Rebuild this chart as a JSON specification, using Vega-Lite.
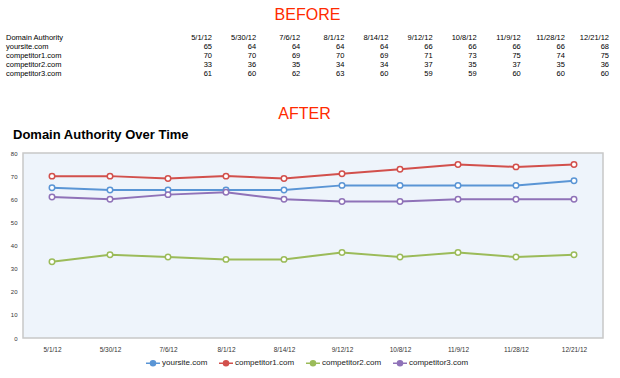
{
  "$schema": "https://vega.github.io/schema/vega-lite/v6.json",
  "background": "white",
  "padding": {"left": 5, "right": 5, "top": 7, "bottom": 3},
  "spacing": 28,
  "datasets": {
    "da": [
      {"site": "yoursite.com", "date": "5/1/12", "value": 65},
      {"site": "yoursite.com", "date": "5/30/12", "value": 64},
      {"site": "yoursite.com", "date": "7/6/12", "value": 64},
      {"site": "yoursite.com", "date": "8/1/12", "value": 64},
      {"site": "yoursite.com", "date": "8/14/12", "value": 64},
      {"site": "yoursite.com", "date": "9/12/12", "value": 66},
      {"site": "yoursite.com", "date": "10/8/12", "value": 66},
      {"site": "yoursite.com", "date": "11/9/12", "value": 66},
      {"site": "yoursite.com", "date": "11/28/12", "value": 66},
      {"site": "yoursite.com", "date": "12/21/12", "value": 68},
      {"site": "competitor1.com", "date": "5/1/12", "value": 70},
      {"site": "competitor1.com", "date": "5/30/12", "value": 70},
      {"site": "competitor1.com", "date": "7/6/12", "value": 69},
      {"site": "competitor1.com", "date": "8/1/12", "value": 70},
      {"site": "competitor1.com", "date": "8/14/12", "value": 69},
      {"site": "competitor1.com", "date": "9/12/12", "value": 71},
      {"site": "competitor1.com", "date": "10/8/12", "value": 73},
      {"site": "competitor1.com", "date": "11/9/12", "value": 75},
      {"site": "competitor1.com", "date": "11/28/12", "value": 74},
      {"site": "competitor1.com", "date": "12/21/12", "value": 75},
      {"site": "competitor2.com", "date": "5/1/12", "value": 33},
      {"site": "competitor2.com", "date": "5/30/12", "value": 36},
      {"site": "competitor2.com", "date": "7/6/12", "value": 35},
      {"site": "competitor2.com", "date": "8/1/12", "value": 34},
      {"site": "competitor2.com", "date": "8/14/12", "value": 34},
      {"site": "competitor2.com", "date": "9/12/12", "value": 37},
      {"site": "competitor2.com", "date": "10/8/12", "value": 35},
      {"site": "competitor2.com", "date": "11/9/12", "value": 37},
      {"site": "competitor2.com", "date": "11/28/12", "value": 35},
      {"site": "competitor2.com", "date": "12/21/12", "value": 36},
      {"site": "competitor3.com", "date": "5/1/12", "value": 61},
      {"site": "competitor3.com", "date": "5/30/12", "value": 60},
      {"site": "competitor3.com", "date": "7/6/12", "value": 62},
      {"site": "competitor3.com", "date": "8/1/12", "value": 63},
      {"site": "competitor3.com", "date": "8/14/12", "value": 60},
      {"site": "competitor3.com", "date": "9/12/12", "value": 59},
      {"site": "competitor3.com", "date": "10/8/12", "value": 59},
      {"site": "competitor3.com", "date": "11/9/12", "value": 60},
      {"site": "competitor3.com", "date": "11/28/12", "value": 60},
      {"site": "competitor3.com", "date": "12/21/12", "value": 60}
    ]
  },
  "vconcat": [
    {
      "title": {"text": "BEFORE", "color": "#ff2a00", "fontSize": 16, "font": "Liberation Sans", "fontWeight": "normal", "anchor": "middle", "frame": "bounds", "offset": 10},
      "spacing": 108,
      "hconcat": [
        {
          "width": 60,
          "height": 45,
          "view": {"stroke": null},
          "data": {"name": "da"},
          "encoding": {
            "y": {"field": "site", "type": "nominal",
              "scale": {"type": "point", "padding": 0.5, "domain": ["Domain Authority", "yoursite.com", "competitor1.com", "competitor2.com", "competitor3.com"]},
              "axis": null}
          },
          "layer": [
            {
              "transform": [{"filter": "datum.date === '5/1/12'"}],
              "mark": {"type": "text", "align": "left", "baseline": "middle", "dx": -17, "font": "Liberation Sans", "fontSize": 7.5, "color": "#000"},
              "encoding": {"x": {"value": 0}, "text": {"field": "site"}}
            },
            {
              "transform": [{"filter": "datum.date === '5/1/12' && datum.site === 'yoursite.com'"}],
              "mark": {"type": "text", "align": "left", "baseline": "middle", "dx": -17, "font": "Liberation Sans", "fontSize": 7.5, "color": "#000"},
              "encoding": {"x": {"value": 0}, "y": {"datum": "Domain Authority", "type": "nominal"}, "text": {"value": "Domain Authority"}}
            }
          ]
        },
        {
          "width": 397,
          "height": 45,
          "view": {"stroke": null},
          "data": {"name": "da"},
          "encoding": {
            "x": {"field": "date", "type": "nominal", "sort": ["5/1/12", "5/30/12", "7/6/12", "8/1/12", "8/14/12", "9/12/12", "10/8/12", "11/9/12", "11/28/12", "12/21/12"], "scale": {"type": "point", "padding": 0}, "axis": null},
            "y": {"field": "site", "type": "nominal",
              "scale": {"type": "point", "padding": 0.5, "domain": ["Domain Authority", "yoursite.com", "competitor1.com", "competitor2.com", "competitor3.com"]},
              "axis": null}
          },
          "layer": [
            {
              "transform": [{"filter": "datum.site === 'yoursite.com'"}],
              "mark": {"type": "text", "align": "right", "baseline": "middle", "font": "Liberation Sans", "fontSize": 7.5, "color": "#000"},
              "encoding": {"y": {"datum": "Domain Authority", "type": "nominal"}, "text": {"field": "date"}}
            },
            {
              "mark": {"type": "text", "align": "right", "baseline": "middle", "font": "Liberation Sans", "fontSize": 7.5, "color": "#000"},
              "encoding": {"text": {"field": "value"}}
            }
          ]
        }
      ]
    },
    {
      "title": {"text": "AFTER", "color": "#ff2a00", "fontSize": 16, "font": "Liberation Sans", "fontWeight": "normal", "anchor": "middle", "offset": 6},
      "vconcat": [
        {
          "width": 580,
          "height": 185,
          "title": {"text": "Domain Authority Over Time", "anchor": "start", "frame": "bounds", "font": "Liberation Sans", "fontSize": 13, "fontWeight": "bold", "color": "#000", "dx": 7, "offset": 8},
          "view": {"fill": "#eef4fb", "stroke": "#c8c8c8", "strokeWidth": 1.5},
          "data": {"name": "da"},
          "encoding": {
            "x": {"field": "date", "type": "nominal", "sort": ["5/1/12", "5/30/12", "7/6/12", "8/1/12", "8/14/12", "9/12/12", "10/8/12", "11/9/12", "11/28/12", "12/21/12"], "scale": {"type": "point", "padding": 0.5},
              "axis": {"title": null, "labelAngle": 0, "ticks": false, "domain": false, "labelFont": "Liberation Sans", "labelFontSize": 6.5, "labelColor": "#333", "labelPadding": 8}},
            "y": {"field": "value", "type": "quantitative", "scale": {"domain": [0, 80], "nice": false},
              "axis": {"title": null, "values": [0, 10, 20, 30, 40, 50, 60, 70, 80], "grid": false, "ticks": false, "domain": false, "labelFont": "Liberation Sans", "labelFontSize": 6, "labelColor": "#333", "labelPadding": 6, "minExtent": 17, "maxExtent": 17}},
            "color": {"field": "site", "type": "nominal",
              "scale": {"domain": ["yoursite.com", "competitor1.com", "competitor2.com", "competitor3.com"], "range": ["#5a95d5", "#d2504c", "#9bbb59", "#8f72b8"]},
              "legend": {"title": null, "orient": "bottom", "direction": "horizontal", "labelFont": "Liberation Sans", "labelFontSize": 8, "labelColor": "#222", "columnPadding": 8, "labelOffset": 1, "offset": 1,
                "symbolType": "M-1,0H-0.36M0.36,0H1M0.36,0A0.36,0.36,0,1,1,-0.36,0A0.36,0.36,0,1,1,0.36,0Z", "symbolSize": 196, "symbolStrokeWidth": 1.5, "symbolFillColor": "#ffffff"}}
          },
          "layer": [
            {"mark": {"type": "line", "strokeWidth": 2}},
            {"mark": {"type": "point", "filled": true, "fill": "#ffffff", "size": 30, "strokeWidth": 1.5, "opacity": 1}, "encoding": {"stroke": {"field": "site", "type": "nominal", "legend": null, "scale": {"domain": ["yoursite.com", "competitor1.com", "competitor2.com", "competitor3.com"], "range": ["#5a95d5", "#d2504c", "#9bbb59", "#8f72b8"]}}}}
          ]
        }
      ]
    }
  ],
  "config": {
    "legend": {"layout": {"bottom": {"anchor": "middle"}}},
    "title": {"font": "Liberation Sans"}
  }
}
